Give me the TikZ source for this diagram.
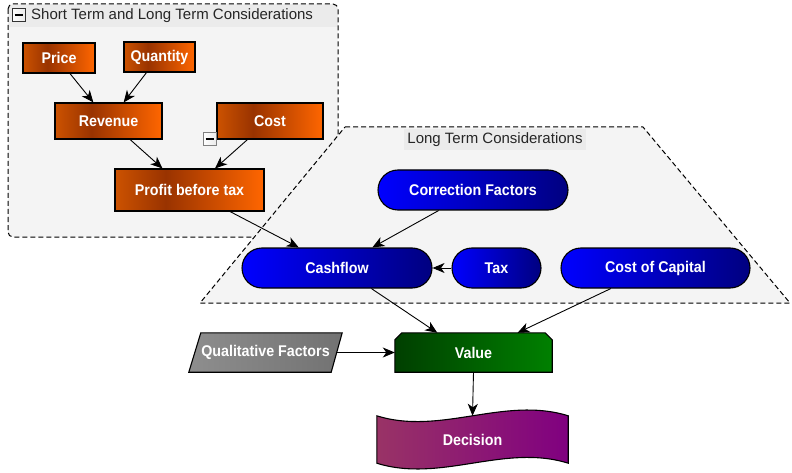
\documentclass[tikz,border=0pt]{standalone}
\usepackage{fontspec}
\setmainfont{Liberation Sans}
\newfontfamily\nodefont[FakeStretch=0.92]{Liberation Sans}
\usetikzlibrary{arrows.meta,calc}
\definecolor{or1}{HTML}{CC5200}
\definecolor{or2}{HTML}{993300}
\definecolor{or3}{HTML}{FF6600}
\definecolor{bl1}{HTML}{0000FF}
\definecolor{bl2}{HTML}{000080}
\definecolor{gr1}{HTML}{003F00}
\definecolor{gr2}{HTML}{008000}
\definecolor{pu1}{HTML}{993366}
\definecolor{pu2}{HTML}{800080}
\definecolor{gy1}{HTML}{8E8E8E}
\definecolor{gy2}{HTML}{727272}
\definecolor{grpfill}{HTML}{F4F4F4}
\definecolor{hdrfill}{HTML}{EBEBEB}
\pgfdeclarehorizontalshading{orangesh}{100bp}{color(0bp)=(or1); color(25bp)=(or1); color(42bp)=(or2); color(75bp)=(or3); color(100bp)=(or3)}
\pgfdeclarehorizontalshading{bluesh}{100bp}{color(0bp)=(bl1); color(25bp)=(bl1); color(75bp)=(bl2); color(100bp)=(bl2)}
\pgfdeclarehorizontalshading{greensh}{100bp}{color(0bp)=(gr1); color(25bp)=(gr1); color(75bp)=(gr2); color(100bp)=(gr2)}
\pgfdeclarehorizontalshading{purplesh}{100bp}{color(0bp)=(pu1); color(25bp)=(pu1); color(75bp)=(pu2); color(100bp)=(pu2)}
\pgfdeclarehorizontalshading{graysh}{100bp}{color(0bp)=(gy1); color(25bp)=(gy1); color(75bp)=(gy2); color(100bp)=(gy2)}
\pgfdeclarehorizontalshading{btnsh}{100bp}{color(0bp)=(white); color(25bp)=(white); color(75bp)=(hdrfill); color(100bp)=(hdrfill)}
\pgfdeclarelayer{bgg}
\pgfdeclarelayer{bg}
\pgfsetlayers{bgg,bg,main}
\tikzset{
  nodetext/.style={font=\nodefont\bfseries\fontsize{15.5}{18}\selectfont, text=white, inner sep=0pt},
  orangebox/.style={nodetext, draw=black, line width=1.1pt, shading=orangesh},
  bluebox/.style={nodetext, draw=black, line width=1.1pt, rounded corners=20pt, shading=bluesh, minimum height=40pt},
  plain/.style={nodetext},
  outline/.style={draw=black, line width=1.1pt},
  grp/.style={draw=black, line width=1pt, dash pattern=on 5pt off 3pt},
  grptitle/.style={font=\fontsize{15}{18}\selectfont, text=black!85, inner sep=0pt},
  arr/.style={-{Stealth[length=12pt,width=10pt,inset=3.5pt]}, line width=0.9pt, draw=black},
  btn/.style={draw=#1, line width=1pt, shading=btnsh, minimum width=13pt, minimum height=13pt, inner sep=0pt},
}
\begin{document}
\begin{tikzpicture}[x=1pt,y=-1pt]
\useasboundingbox (0,0) rectangle (792,473);

% ---- group backgrounds ----
\begin{pgfonlayer}{bgg}
  \fill[grpfill, rounded corners=5pt] (8,4) rectangle (338,237);
  \fill[hdrfill, rounded corners=4pt] (8.5,4.5) rectangle (337.5,27);
  \fill[grpfill] (8.5,20) rectangle (337.5,27.5);
  \fill[hdrfill] (8.5,20) rectangle (337.5,27);
  \draw[grp, rounded corners=5pt] (8,4) rectangle (338,237);
  \path[grp, fill=grpfill] (345,127) -- (643,127) -- (790,303) -- (200,303) -- cycle;
  \fill[hdrfill] (404,129) rectangle (586,150);
\end{pgfonlayer}

\node[btn=black!80] (btnA) at (18.5,15.5) {};
\draw[line width=2pt] ($(btnA.center)+(-4,0)$) -- ($(btnA.center)+(4,0)$);
\node[grptitle, anchor=west] (titleA) at (31,16) {Short Term and Long Term Considerations};
\node[grptitle] (titleB) at (495,139.5) {Long Term Considerations};

% ---- orange nodes ----
\node[orangebox, minimum width=72pt, minimum height=30pt] (price) at (59,58) {Price};
\node[orangebox, minimum width=71pt, minimum height=30pt] (qty) at (159.5,57) {Quantity};
\node[orangebox, minimum width=107pt, minimum height=36pt] (rev) at (108.5,121) {Revenue};
\node[orangebox, minimum width=106pt, minimum height=36pt] (cost) at (270,121) {Cost};
\node[orangebox, minimum width=149pt, minimum height=42pt] (pbt) at (189.5,190) {Profit before tax};

\node[btn=black!50] (btnB) at (209.5,139) {};
\draw[line width=2pt] ($(btnB.center)+(-4,0)$) -- ($(btnB.center)+(4,0)$);

% ---- blue nodes ----
\node[bluebox, minimum width=190pt] (corr) at (473,190) {Correction Factors};
\node[bluebox, minimum width=190pt] (cash) at (337,268) {Cashflow};
\node[bluebox, minimum width=89pt] (tax) at (496.5,268) {Tax};
\node[bluebox, minimum width=189pt] (coc) at (655.5,268) {Cost of Capital};

% ---- custom shapes ----
\node[plain, minimum width=153pt, minimum height=39pt] (qual) at (265.5,352.5) {Qualitative Factors};
\node[plain, minimum width=157pt, minimum height=39pt] (val) at (473.5,352.5) {Value};
\node[plain, minimum width=191pt, minimum height=47pt] (dec) at (472.5,439.5) {Decision};

\begin{pgfonlayer}{bg}
  \path[outline, shading=graysh] (qual.south west) -- ($(qual.north west)+(12,0)$) -- (qual.north east) -- ($(qual.south east)+(-11,0)$) -- cycle;
  \path[outline, shading=greensh] (val.south west) -- ($(val.north west)+(0,7)$) -- ($(val.north west)+(7,0)$) -- ($(val.north east)+(-7,0)$) -- ($(val.north east)+(0,7)$) -- (val.south east) -- cycle;
  \path[outline, shading=purplesh] (dec.north west) .. controls ($(dec.north west)+(64,20)$) and ($(dec.north east)+(-64,-20)$) .. (dec.north east) -- (dec.south east) .. controls ($(dec.south east)+(-64,-20)$) and ($(dec.south west)+(64,20)$) .. (dec.south west) -- cycle;
\end{pgfonlayer}

% ---- connectors ----
\draw[arr] ($(price.south west)!.65!(price.south east)$) -- ($(rev.north west)!.36!(rev.north east)$);
\draw[arr] ($(qty.south west)!.32!(qty.south east)$) -- ($(rev.north west)!.64!(rev.north east)$);
\draw[arr] ($(rev.south west)!.70!(rev.south east)$) -- ($(pbt.north west)!.32!(pbt.north east)$);
\draw[arr] ($(cost.south west)!.29!(cost.south east)$) -- ($(pbt.north west)!.67!(pbt.north east)$);
\draw[arr] ($(pbt.south west)!.77!(pbt.south east)$) -- ($(cash.north west)!.30!(cash.north east)$);
\draw[arr] ($(corr.south west)!.32!(corr.south east)$) -- ($(cash.north west)!.685!(cash.north east)$);
\draw[arr] (tax.west) -- (cash.east);
\draw[arr] ($(cash.south west)!.68!(cash.south east)$) -- ($(val.north west)!.27!(val.north east)$);
\draw[arr] ($(coc.south west)!.265!(coc.south east)$) -- ($(val.north west)!.78!(val.north east)$);
\draw[arr] ($(qual.east)+(-5,0)$) -- (val.west);
\draw[arr] (val.south) -- (dec.north);
\end{tikzpicture}
\end{document}
